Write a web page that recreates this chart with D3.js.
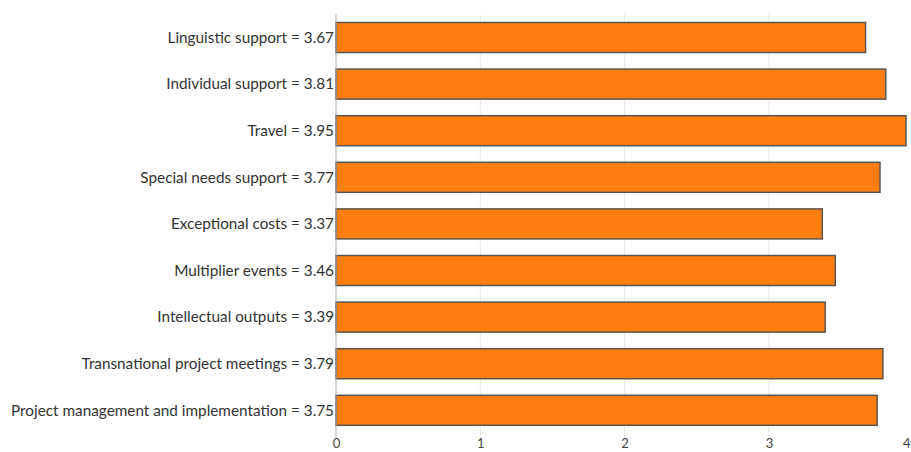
<!DOCTYPE html>
<html>
<head>
<meta charset="utf-8">
<script src="https://cdn.jsdelivr.net/npm/d3@7"></script>
<style>
  html, body { margin: 0; padding: 0; background: #fff; }
  svg { display: block; font-family: Lato, "Open Sans", sans-serif; }
</style>
</head>
<body>
<svg id="chart" width="911" height="452"></svg>
<script>
// Average scores per budget category
const categories = [
  "Linguistic support",
  "Individual support",
  "Travel",
  "Special needs support",
  "Exceptional costs",
  "Multiplier events",
  "Intellectual outputs",
  "Transnational project meetings",
  "Project management and implementation"
];
const scores = [3.67, 3.81, 3.95, 3.77, 3.37, 3.46, 3.39, 3.79, 3.75];
const tickValues = [0, 1, 2, 3, 4];

const rows = categories.map((c, i) => ({ name: c, value: scores[i] }));

const svg = d3.select("#chart");
const width = 911;
const plotLeft = 336, plotTop = 14.2, plotBottom = 433.6;

const x = d3.scaleLinear().domain([0, 4]).range([plotLeft, plotLeft + 4 * 144.3]);
const y = d3.scaleBand()
  .domain(categories)
  .range([plotTop, plotBottom])
  .paddingInner(0.356)
  .paddingOuter(0.178);

// vertical grid lines
svg.append("g")
  .selectAll("line")
  .data(tickValues.filter(d => d > 0))
  .join("line")
  .attr("x1", d => x(d)).attr("x2", d => x(d))
  .attr("y1", plotTop).attr("y2", plotBottom + 5)
  .attr("stroke", "#e8e8e8")
  .attr("stroke-width", 1);

// bars
svg.append("g")
  .selectAll("rect")
  .data(rows)
  .join("rect")
  .attr("x", x(0))
  .attr("y", d => y(d.name))
  .attr("width", d => x(d.value) - x(0))
  .attr("height", y.bandwidth())
  .attr("fill", "#fe7f10")
  .attr("stroke", "#5a5550")
  .attr("stroke-width", 1.5);

// baseline
svg.append("line")
  .attr("x1", x(0)).attr("x2", x(0))
  .attr("y1", plotTop).attr("y2", plotBottom + 5)
  .attr("stroke", "#aaa")
  .attr("stroke-width", 1);

// category labels
svg.append("g")
  .selectAll("text")
  .data(rows)
  .join("text")
  .attr("x", x(0) - 2)
  .attr("y", d => y(d.name) + y.bandwidth() / 2)
  .attr("dy", "0.35em")
  .attr("text-anchor", "end")
  .attr("font-size", 15.3)
  .attr("fill", "#333")
  .text(d => `${d.name} = ${d3.format(".2f")(d.value)}`);

// bottom axis
const axis = svg.append("g")
  .attr("transform", `translate(0,${plotBottom})`)
  .call(d3.axisBottom(x).tickValues(tickValues).tickSize(0).tickPadding(5).tickFormat(d3.format("d")));
axis.select(".domain").remove();
axis.selectAll("text").attr("font-size", 13).attr("fill", "#444")
  .attr("font-family", "Lato, 'Open Sans', sans-serif");

// keep the last tick label inside the drawing area
axis.selectAll(".tick")
  .filter(d => x(d) > width - 6)
  .select("text")
  .attr("text-anchor", "end")
  .attr("x", d => width - 1 - x(d));
</script>
</body>
</html>
